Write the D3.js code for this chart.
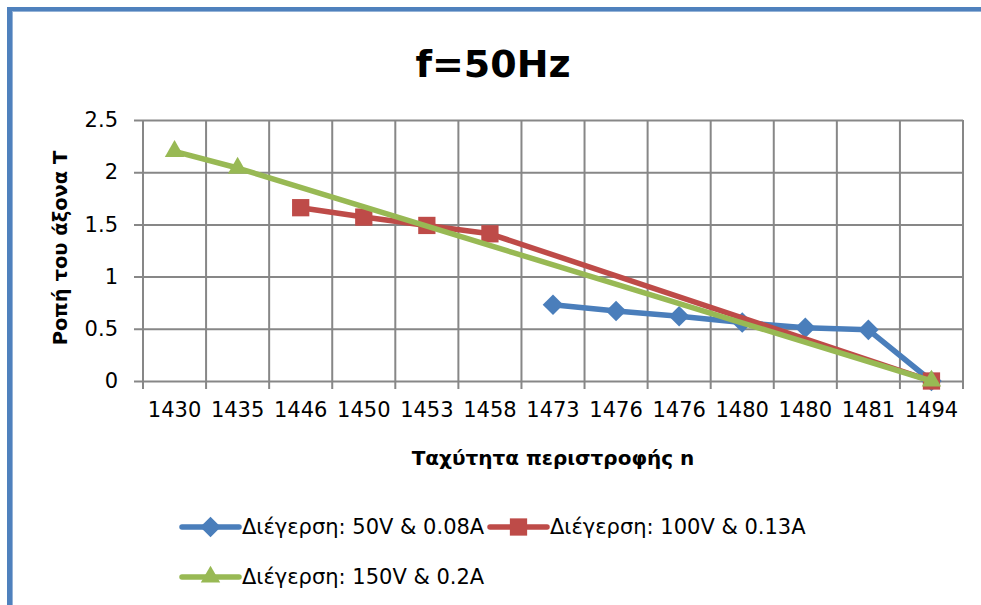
<!DOCTYPE html>
<html>
<head>
<meta charset="utf-8">
<script src="https://cdn.jsdelivr.net/npm/d3@7"></script>
<style>
  body { margin: 0; background: #fff; }
  svg { display: block; font-family: "DejaVu Sans", sans-serif; }
</style>
</head>
<body>
<div id="chart"></div>
<script>
const W = 981;
const H = 605;

// x categories (speed n, rpm) - labels repeat so index is used as the key
const speeds = ["1430", "1435", "1446", "1450", "1453", "1458", "1473", "1476", "1476", "1480", "1480", "1481", "1494"];
// torque T, null = no reading for that speed
const torque50 = [null, null, null, null, null, null, 0.73, 0.67, 0.62, 0.56, 0.51, 0.49, 0];
const torque100 = [null, null, 1.66, 1.57, 1.49, 1.41, null, null, null, null, null, null, 0];
const torque150 = [2.2, 2.04, null, null, null, null, null, null, null, null, null, null, 0];
const yTicks = [0, 0.5, 1, 1.5, 2, 2.5];

const seriesNames = ["Διέγερση: 50V & 0.08A", "Διέγερση: 100V & 0.13A", "Διέγερση: 150V & 0.2A"];
const colors = ["#4A7EBB", "#BE4B48", "#98B954"];
const shapes = [d3.symbolDiamond2, d3.symbolSquare2, d3.symbolTriangle2];

const plotL = 143, plotR = 963, plotT = 120, plotB = 381;
const font = "DejaVu Sans, sans-serif";

const svg = d3.select("#chart").append("svg")
    .attr("width", W)
    .attr("height", H);

// frame
svg.append("rect").attr("x", 7).attr("y", 7).attr("width", W).attr("height", 4).attr("fill", "#4F81BD");
svg.append("rect").attr("x", 7).attr("y", 7).attr("width", 5).attr("height", H).attr("fill", "#4F81BD");
svg.append("rect").attr("x", 12).attr("y", 11).attr("width", W).attr("height", 1).attr("fill", "#95B3D7");
svg.append("rect").attr("x", 12).attr("y", 11).attr("width", 1).attr("height", H).attr("fill", "#95B3D7");

const x = d3.scaleBand()
    .domain(d3.range(speeds.length))
    .range([plotL, plotR]);

const y = d3.scaleLinear()
    .domain([0, 2.5])
    .range([plotB, plotT]);

const gridColor = "#878787";

// horizontal grid + y ticks
svg.append("g")
    .attr("transform", "translate(" + plotL + ",0)")
    .call(d3.axisLeft(y).tickValues(yTicks).tickSizeInner(-(plotR - plotL)).tickSizeOuter(0).tickFormat(d3.format("")))
    .attr("font-family", font)
    .attr("font-size", 21)
    .call(g => g.select(".domain").remove())
    .call(g => g.selectAll(".tick line").attr("stroke", gridColor).attr("stroke-width", 2).attr("x1", -9))
    .call(g => g.selectAll(".tick text").attr("fill", "#000").attr("x", -25));

// vertical grid at category boundaries, with tick marks below the axis
const bounds = d3.range(speeds.length).map(i => x(i)).concat([x.range()[1]]);
svg.append("g").selectAll("line")
    .data(bounds)
    .enter().append("line")
    .attr("x1", d => d).attr("x2", d => d)
    .attr("y1", plotT).attr("y2", plotB + 8)
    .attr("stroke", gridColor)
    .attr("stroke-width", 2);

// x labels
svg.append("g")
    .attr("transform", "translate(0," + plotB + ")")
    .call(d3.axisBottom(x).tickSize(0).tickPadding(21).tickFormat(i => speeds[i]))
    .attr("font-family", font)
    .attr("font-size", 21)
    .call(g => g.select(".domain").remove())
    .call(g => g.selectAll(".tick text").attr("fill", "#000"));

// series
const allSeries = [torque50, torque100, torque150];
const line = d3.line()
    .x(d => x(d.i) + x.bandwidth() / 2)
    .y(d => y(d.v));

allSeries.forEach(function(vals, k) {
    const pts = vals.map((v, i) => ({ i: i, v: v })).filter(d => d.v !== null);
    const g = svg.append("g");
    g.append("path")
        .datum(pts)
        .attr("d", line)
        .attr("fill", "none")
        .attr("stroke", colors[k])
        .attr("stroke-width", 5.5)
        .attr("stroke-linejoin", "round")
        .attr("stroke-linecap", "round");
    g.selectAll("path.mark")
        .data(pts)
        .enter().append("path")
        .attr("class", "mark")
        .attr("d", d3.symbol().type(shapes[k]).size(k == 1 ? 380 : 270))
        .attr("transform", d => "translate(" + (x(d.i) + x.bandwidth() / 2) + "," + y(d.v) + ")")
        .attr("fill", colors[k]);
});

// title
svg.append("text")
    .attr("x", 493).attr("y", 77)
    .attr("text-anchor", "middle")
    .attr("font-size", 38)
    .attr("font-weight", "bold")
    .text("f=50Hz");

// axis titles
svg.append("text")
    .attr("transform", "translate(67,248) rotate(-90)")
    .attr("text-anchor", "middle")
    .attr("font-size", 19.5)
    .attr("font-weight", "bold")
    .text("Ροπή του άξονα Τ");

svg.append("text")
    .attr("x", 553).attr("y", 465)
    .attr("text-anchor", "middle")
    .attr("font-size", 20)
    .attr("font-weight", "bold")
    .text("Ταχύτητα περιστροφής n");

// legend
const legendPos = [[182, 527], [490, 527], [182, 577]];
const legend = svg.append("g").selectAll("g")
    .data(seriesNames)
    .enter().append("g")
    .attr("transform", (d, i) => "translate(" + legendPos[i][0] + "," + legendPos[i][1] + ")");

legend.append("line")
    .attr("x1", 0).attr("x2", 57)
    .attr("stroke", (d, i) => colors[i])
    .attr("stroke-width", 5.5)
    .attr("stroke-linecap", "round");

legend.append("path")
    .attr("d", (d, i) => d3.symbol().type(shapes[i]).size(i == 1 ? 380 : 270)())
    .attr("transform", "translate(28.5,0)")
    .attr("fill", (d, i) => colors[i]);

legend.append("text")
    .attr("x", 60).attr("y", 7)
    .attr("font-size", 21)
    .text(d => d);
</script>
</body>
</html>
